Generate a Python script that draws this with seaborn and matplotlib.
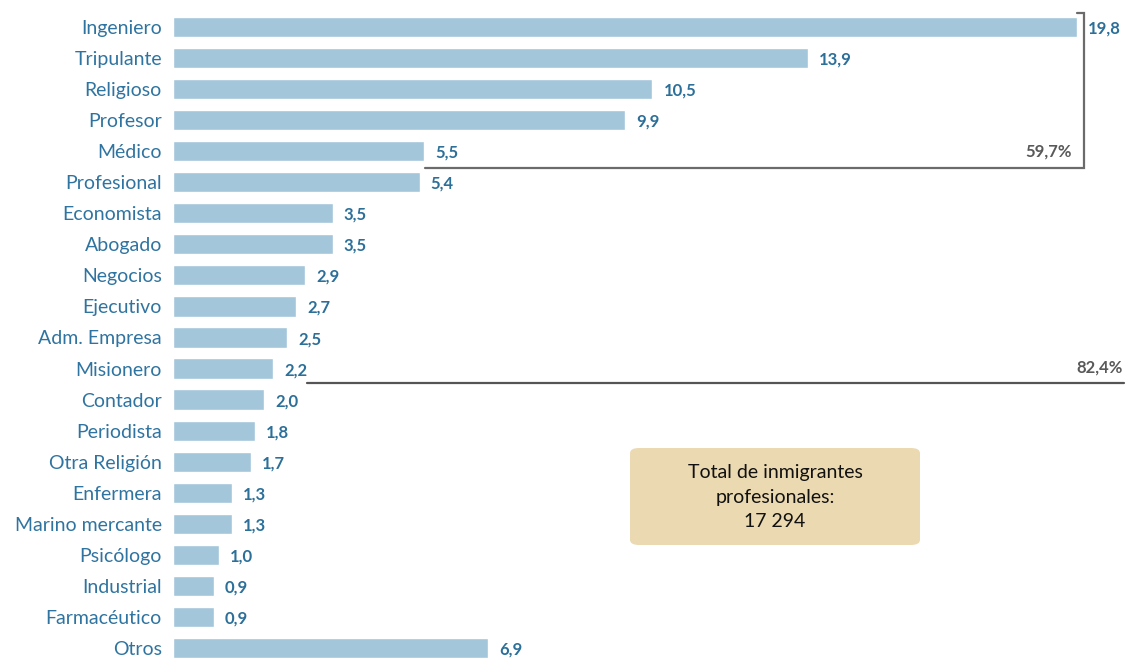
import matplotlib
matplotlib.use("Agg")
import matplotlib.pyplot as plt
import seaborn as sns
import pandas as pd
from matplotlib.patches import FancyBboxPatch

categories = ["Ingeniero", "Tripulante", "Religioso", "Profesor", "Médico", "Profesional",
              "Economista", "Abogado", "Negocios", "Ejecutivo", "Adm. Empresa", "Misionero",
              "Contador", "Periodista", "Otra Religión", "Enfermera", "Marino mercante",
              "Psicólogo", "Industrial", "Farmacéutico", "Otros"]
values = [19.8, 13.9, 10.5, 9.9, 5.5, 5.4, 3.5, 3.5, 2.9, 2.7, 2.5, 2.2,
          2.0, 1.8, 1.7, 1.3, 1.3, 1.0, 0.9, 0.9, 6.9]
group1_label = "59,7%"
group2_label = "82,4%"
box_text = "Total de inmigrantes\nprofesionales:\n17 294"

sns.set_theme(style="white")
plt.rcParams["font.family"] = ["Lato", "DejaVu Sans"]

df = pd.DataFrame({"cat": categories, "val": values})

fig = plt.figure(figsize=(11.26, 6.61), dpi=100)
ax = fig.add_axes([173 / 1126, 0, 953 / 1126, 1])
sns.barplot(data=df, y="cat", x="val", orient="h", color="#A3C6DA", saturation=1,
            width=0.65, ax=ax)

ax.set_xlim(0, 20.87)
ax.set_ylim(20.42, -0.87)
for s in ax.spines.values():
    s.set_visible(False)
ax.set_xticks([])
ax.set_xlabel("")
ax.set_ylabel("")
ax.tick_params(axis="y", length=0, pad=8, labelsize=14, labelcolor="#2F74A0")

label_color = "#2C6F99"
for i, v in enumerate(values):
    ax.text(v + 0.24, i + 0.05, f"{v:.1f}".replace(".", ","), ha="left", va="center",
            fontsize=12, fontweight="bold", color=label_color)

gray = "#6B6B6B"
# bracket for first five
top_end = values[0]
ax.plot([top_end, 19.95, 19.95, values[4] + 0.02], [-0.45, -0.45, 4.54, 4.54],
        color=gray, lw=1.6, solid_joinstyle="miter", clip_on=False)
ax.text(19.68, 4.02, group1_label, ha="right", va="center", fontsize=12,
        fontweight="bold", color="#595959")
# line for first twelve
ax.plot([values[11] + 0.73, 20.83], [11.47, 11.47], color="#555555", lw=1.6, clip_on=False)
ax.text(20.8, 10.96, group2_label, ha="right", va="center", fontsize=12,
        fontweight="bold", color="#595959")

box = FancyBboxPatch((630 / 1126, 1 - 545 / 661), 290 / 1126, 97 / 661,
                     boxstyle="round,pad=0,rounding_size=0.008",
                     transform=fig.transFigure, facecolor="#EBD9B1", edgecolor="none")
fig.patches.append(box)
fig.text(775 / 1126, 1 - 497 / 661, box_text, ha="center", va="center", fontsize=14,
         color="#111111", linespacing=1.55)

fig.savefig("out.png", dpi=100)
